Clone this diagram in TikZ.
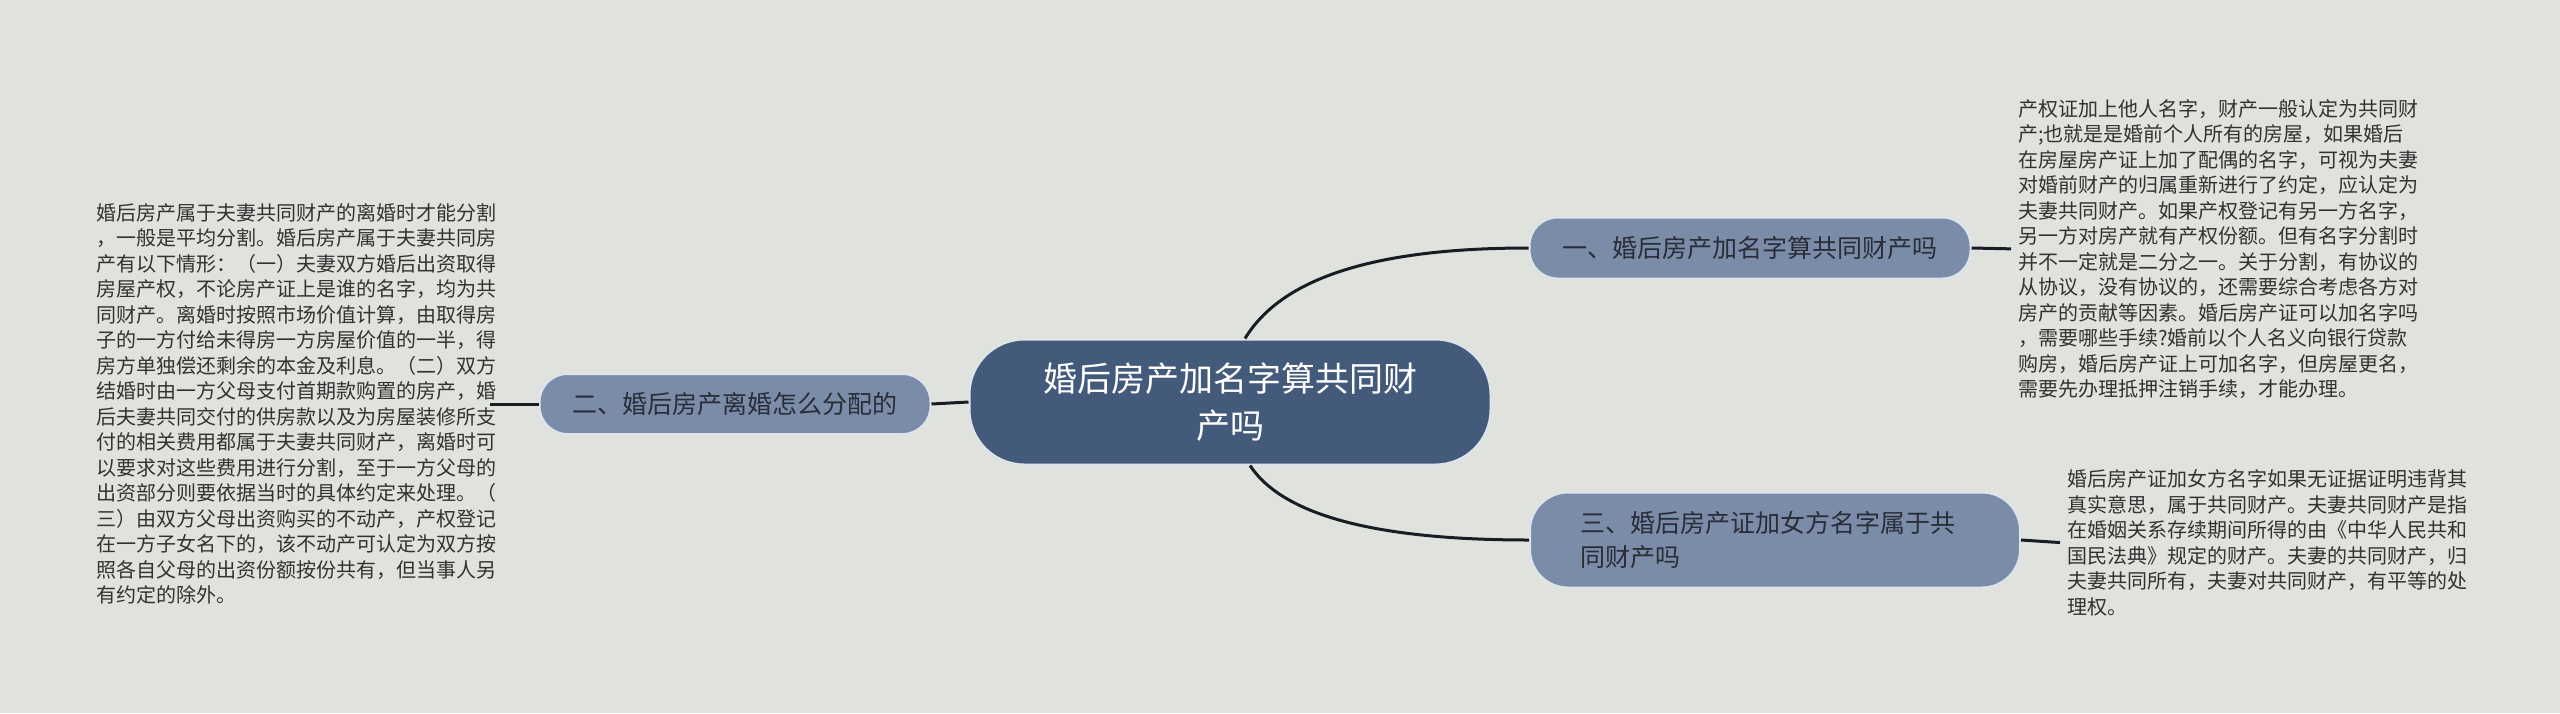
\documentclass[tikz,border=0pt]{standalone}
\usepackage{fontspec}
\setmainfont{Noto Sans CJK SC}
\definecolor{bg}{RGB}{224,226,221}
\definecolor{mainfill}{RGB}{67,90,122}
\definecolor{subfill}{RGB}{122,140,168}
\definecolor{edgec}{RGB}{222,228,236}
\definecolor{linec}{RGB}{25,28,34}
\definecolor{txt}{RGB}{50,50,50}
\definecolor{subtext}{RGB}{40,45,55}
\begin{document}
\begin{tikzpicture}[x=1pt,y=-1pt,
  mainnode/.style={draw=edgec, line width=2pt, fill=mainfill, rounded corners=55pt,
    minimum width=521pt, minimum height=125pt, text=white,
    font=\fontsize{34}{47}\selectfont, align=center, inner sep=0pt},
  subnode/.style={draw=edgec, line width=2pt, fill=subfill, rounded corners=28pt,
    text=subtext, font=\fontsize{25}{34}\selectfont, inner sep=0pt},
  body/.style={text=txt, font=\fontsize{20}{25.5}\selectfont, align=left,
    inner sep=0pt, anchor=west},
  conn/.style={draw=linec, line width=3pt}]
\fill[bg] (0,0) rectangle (2560,713);
\useasboundingbox (0,0) rectangle (2560,713);

\node[mainnode] (c) at (1230,402) {婚后房产加名字算共同财\\产吗};
\node[subnode, minimum width=441pt, minimum height=61pt] (n1) at (1750,248) {一、婚后房产加名字算共同财产吗};
\node[subnode, minimum width=391pt, minimum height=60pt] (n2) at (735,404) {二、婚后房产离婚怎么分配的};
\node[subnode, minimum width=490pt, minimum height=95pt, text width=390pt, align=left, rounded corners=38pt] (n3) at (1775,540) {三、婚后房产证加女方名字属于共\\同财产吗};

\node[body] (t2) at (96,404) {婚后房产属于夫妻共同财产的离婚时才能分割\\
，一般是平均分割。婚后房产属于夫妻共同房\\
产有以下情形：（一）夫妻双方婚后出资取得\\
房屋产权，不论房产证上是谁的名字，均为共\\
同财产。离婚时按照市场价值计算，由取得房\\
子的一方付给未得房一方房屋价值的一半，得\\
房方单独偿还剩余的本金及利息。（二）双方\\
结婚时由一方父母支付首期款购置的房产，婚\\
后夫妻共同交付的供房款以及为房屋装修所支\\
付的相关费用都属于夫妻共同财产，离婚时可\\
以要求对这些费用进行分割，至于一方父母的\\
出资部分则要依据当时的具体约定来处理。（\\
三）由双方父母出资购买的不动产，产权登记\\
在一方子女名下的，该不动产可认定为双方按\\
照各自父母的出资份额按份共有，但当事人另\\
有约定的除外。};

\node[body] (t1) at (2018,249) {产权证加上他人名字，财产一般认定为共同财\\
产;也就是是婚前个人所有的房屋，如果婚后\\
在房屋房产证上加了配偶的名字，可视为夫妻\\
对婚前财产的归属重新进行了约定，应认定为\\
夫妻共同财产。如果产权登记有另一方名字，\\
另一方对房产就有产权份额。但有名字分割时\\
并不一定就是二分之一。关于分割，有协议的\\
从协议，没有协议的，还需要综合考虑各方对\\
房产的贡献等因素。婚后房产证可以加名字吗\\
，需要哪些手续?婚前以个人名义向银行贷款\\
购房，婚后房产证上可加名字，但房屋更名，\\
需要先办理抵押注销手续，才能办理。};

\node[body] (t3) at (2067,543) {婚后房产证加女方名字如果无证据证明违背其\\
真实意思，属于共同财产。夫妻共同财产是指\\
在婚姻关系存续期间所得的由《中华人民共和\\
国民法典》规定的财产。夫妻的共同财产，归\\
夫妻共同所有，夫妻对共同财产，有平等的处\\
理权。};

\draw[conn] (c.west) -- (n2.east);
\draw[conn, shorten >=-6pt] (n2.west) -- (t2.east);
\draw[conn, shorten >=7pt] (n1.east) -- (t1.west);
\draw[conn, shorten >=7pt] (n3.east) -- (t3.west);
\draw[conn] ([xshift=15pt]c.north) .. controls +(37,-61) and +(-153,0) .. (n1.west);
\draw[conn] ([xshift=20pt]c.south) .. controls +(33,50) and +(-153,0) .. (n3.west);
\end{tikzpicture}
\end{document}
